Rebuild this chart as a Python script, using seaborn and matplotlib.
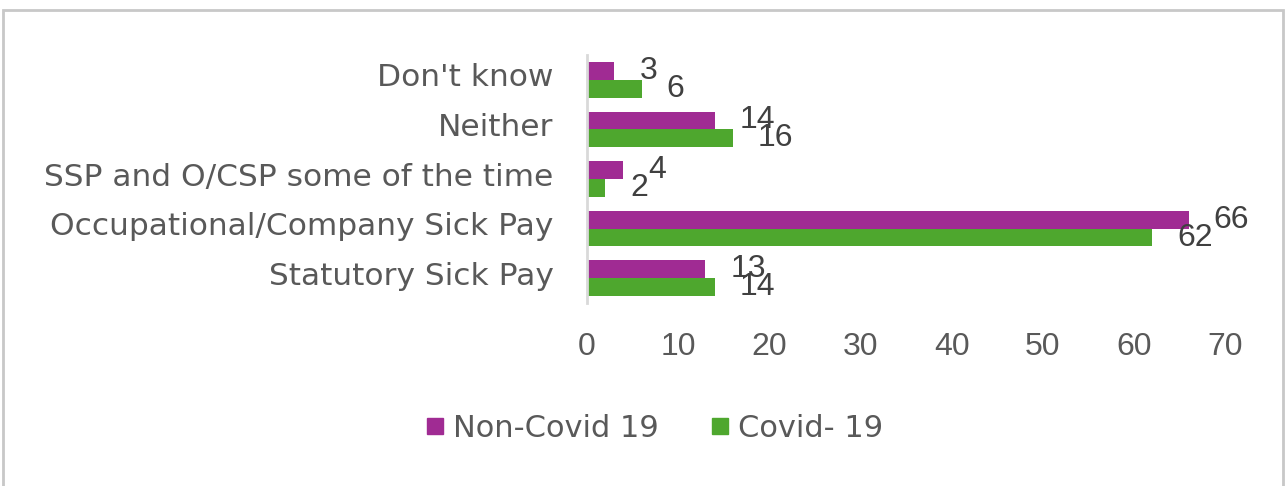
import matplotlib
matplotlib.use("Agg")
import matplotlib.pyplot as plt
import matplotlib.transforms as mtransforms
import seaborn as sns
import pandas as pd
from matplotlib.patches import Rectangle
from matplotlib.lines import Line2D

categories = ["Don't know", "Neither", "SSP and O/CSP some of the time",
              "Occupational/Company Sick Pay", "Statutory Sick Pay"]
non_covid = [3, 14, 4, 66, 13]
covid = [6, 16, 2, 62, 14]
series_names = ["Non-Covid 19", "Covid- 19"]
colors = ["#A02B93", "#4EA72E"]
xticks = [0, 10, 20, 30, 40, 50, 60, 70]

df = pd.DataFrame({
    "category": categories * 2,
    "value": non_covid + covid,
    "series": [series_names[0]] * len(categories) + [series_names[1]] * len(categories),
})

sns.set_style("white")
plt.rcParams["font.family"] = ["Liberation Sans", "DejaVu Sans"]

W, H = 1287, 486
fig = plt.figure(figsize=(W / 100, H / 100), dpi=100)
ax = fig.add_axes([587 / W, 1 - 303 / H, (1225 - 587) / W, (303 - 55) / H])

sns.barplot(data=df, y="category", x="value", hue="series", orient="h",
            order=categories, hue_order=series_names, palette=colors,
            width=0.72, ax=ax, legend=False, saturation=1, edgecolor="none")

ax.set_xlim(0, 70)
ax.set_ylim(len(categories) - 0.5, -0.5)
ax.set_xticks(xticks)
ax.set_xticklabels([str(t) for t in xticks])
ax.set_xlabel("")
ax.set_ylabel("")
for s in ["top", "right", "bottom"]:
    ax.spines[s].set_visible(False)
ax.spines["left"].set_color("#d9d9d9")
ax.spines["left"].set_linewidth(2)
ax.grid(False)
ax.tick_params(axis="both", length=0, colors="#595959")
ax.tick_params(axis="x", pad=21, labelsize=23)
ax.tick_params(axis="y", pad=24, labelsize=22.5)
shift = mtransforms.ScaledTranslation(0, 5 / 100, fig.dpi_scale_trans)
for lbl in ax.get_yticklabels():
    lbl.set_family(["DejaVu Sans"])
    lbl.set_transform(lbl.get_transform() + shift)

for cont in ax.containers:
    ax.bar_label(cont, padding=18, fontsize=23, color="#404040")

handles = [Line2D([0], [0], marker="s", linestyle="none", markersize=12,
                  markerfacecolor=c, markeredgecolor=c) for c in colors]
fig.legend(handles, series_names, loc="center", bbox_to_anchor=(653 / W, 1 - 428 / H),
           ncol=2, frameon=False, labelcolor="#595959",
           prop={"family": ["DejaVu Sans"], "size": 22},
           handletextpad=0.2, columnspacing=1.6, handlelength=0.8)

fig.patches.append(Rectangle((3 / W, -0.05), (1283 - 3) / W, 1.05 - 10 / H,
                             transform=fig.transFigure, fill=False,
                             edgecolor="#c8c8c8", linewidth=2))

fig.savefig("out.png", dpi=100, facecolor="white")
